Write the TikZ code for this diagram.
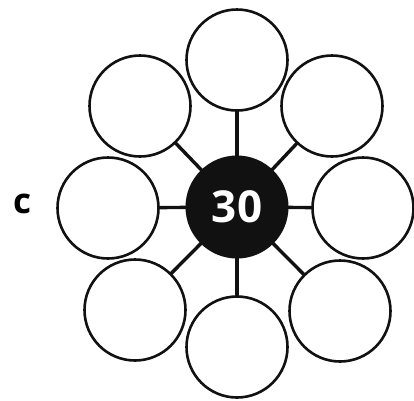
\documentclass[tikz,border=0pt]{standalone}
\usepackage{fontspec}
\setmainfont{Open Sans}
\usetikzlibrary{backgrounds}
\definecolor{Ink}{HTML}{111111}

\begin{document}
\begin{tikzpicture}[x=1pt,y=-1pt,
    o/.style={draw=Ink,circle,line width=2.6pt,minimum size=101pt,inner sep=0pt,fill=white},
    hub/.style={circle,fill=Ink,minimum size=103pt,inner sep=0pt,text=white,font=\fontsize{44}{44}\selectfont\bfseries},
    sp/.style={line width=3.4pt,draw=Ink}]
    \useasboundingbox (0,0) rectangle (414,400);
    \node[hub] (h) at (237,207) {30};
    \node[o] (t) at (237,60) {};
    \node[o] (tl) at (140,106) {};
    \node[o] (tr) at (332,106) {};
    \node[o] (l) at (108,208) {};
    \node[o] (r) at (363,208) {};
    \node[o] (bl) at (135,310) {};
    \node[o] (br) at (340,311) {};
    \node[o] (b) at (237,347) {};
    \node[font=\fontsize{35}{35}\selectfont\bfseries] (lab) at (22,204) {c};
    \begin{scope}[on background layer]
      \foreach \k in {t,tl,tr,l,r,bl,br,b} \draw[sp] (h.center)--(\k.center);
    \end{scope}
  \end{tikzpicture}
\end{document}
